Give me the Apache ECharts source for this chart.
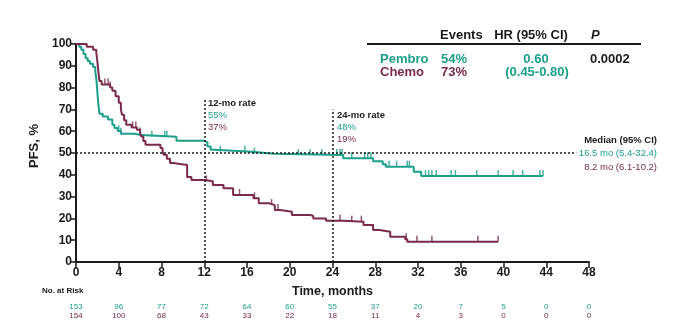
<!DOCTYPE html>
<html><head><meta charset="utf-8">
<script src="https://cdn.jsdelivr.net/npm/echarts@6/dist/echarts.min.js"></script>
<style>html,body{margin:0;padding:0;background:#fff}#c{width:692px;height:330px}</style>
</head><body><div id="c"></div>
<script>
// ---- data ----
const xTicks = [0,4,8,12,16,20,24,28,32,36,40,44,48];
const pembroAtRisk = [153,96,77,72,64,60,55,37,20,7,5,0,0];
const chemoAtRisk  = [154,100,68,43,33,22,18,11,4,3,0,0,0];
// Kaplan-Meier steps [months, PFS %]
const pembroKM = [[0,100],[0.3,98.7],[0.5,97.4],[0.7,95.4],[0.9,93.5],[1.1,92.2],[1.3,90.9],[1.6,89.5],[1.8,87.6],[1.9,84],[2.0,78],[2.1,72],[2.2,68],[2.5,66.7],[3.0,65.4],[3.4,63],[3.6,61.5],[3.9,60.1],[4.2,58.8],[5.5,58.2],[6.1,57.5],[9.4,55.6],[12.0,54.9],[12.3,53],[12.6,51.5],[12.9,50.6],[16.5,49.7],[18.5,49.1],[25.0,47.6],[27.8,46.2],[28.7,44.8],[29.0,43.7],[31.6,41.4],[32.3,39.4],[43.7,39.4]];
const chemoKM = [[0,100],[1.0,98.7],[1.6,97.4],[1.9,96.1],[2.0,92],[2.1,87],[2.2,83],[2.4,81.4],[3.2,80],[3.4,78.5],[3.7,76],[4.0,73],[4.2,70],[4.3,67.6],[4.5,65],[4.7,63],[5.2,61.7],[5.7,60.7],[6.0,59],[6.1,57.6],[6.3,55.5],[6.5,53.8],[7.9,52.3],[8.1,50.5],[8.2,49.2],[8.5,47.4],[8.8,45.4],[9.1,44.5],[10.4,39],[10.8,37.6],[12.0,37],[12.8,35.3],[13.8,33.8],[14.7,30.7],[16.6,29.2],[17.1,26.9],[18.1,26.1],[18.6,23.9],[19.1,23],[20.2,21.6],[21.9,21.1],[22.2,20],[23.4,18.9],[25,18.5],[26.9,17],[27.8,14.7],[28.4,13.9],[29.4,11.6],[30.8,10.4],[31.0,9.3],[39.5,9.3]];
const pembroCensor = [4.0,4.2,7.1,8.3,8.5,13.5,15.8,16.7,20.8,21.9,23.0,24.4,24.7,24.9,25.8,27.0,27.3,27.6,29.3,30.0,31.0,31.2,32.7,33.0,33.3,33.7,35.1,35.5,37.5,39.5,40.9,41.8,43.4,43.7];
const chemoCensor = [2.7,3.0,3.2,5.3,5.6,6.0,12.2,15.3,16.7,18.3,18.9,24.7,25.8,26.7,27.8,30.9,31.9,33.3,37.6,39.5];
const landmarks = [12, 24];
const medianPct = 50;

const TEAL = '#1b9f89', MAROON = '#7a2a4b', INK = '#1a1a1a';
const FONT = '"Liberation Sans", Arial, sans-serif';

function survAt(km, t){ let v = km[0][1]; for (const p of km){ if (p[0] <= t) v = p[1]; else break; } return v; }
const censorPts = (km, ts) => ts.map(t => [t, survAt(km, t)]);

const chart = echarts.init(document.getElementById('c'), null, {renderer:'canvas'});

const baseX = {type:'value', min:0, max:48, interval:4, splitLine:{show:false}};
const txt = (text, x, y, fill, size, weight, align, extra) => Object.assign({type:'text', x, y, silent:true,
  style: {text, fill, font: (weight||'normal') + ' ' + size + 'px ' + FONT, align: align||'left', verticalAlign:'middle'}}, extra||{});

chart.setOption({
  animation:false,
  grid:{left:76, right:103, top:44, bottom:68},
  xAxis:[
    Object.assign({}, baseX, {
      axisLine:{lineStyle:{color:INK, width:2}},
      axisTick:{length:6, lineStyle:{color:INK, width:1.5}},
      axisLabel:{color:INK, fontWeight:'bold', fontSize:12, fontFamily:FONT, margin:5},
      name:'Time, months', nameLocation:'middle', nameGap:23,
      nameTextStyle:{color:INK, fontWeight:'bold', fontSize:12.5, fontFamily:FONT}
    }),
    Object.assign({}, baseX, {position:'bottom', offset:41, axisLine:{show:false}, axisTick:{show:false},
      axisLabel:{color:TEAL, fontSize:8, fontFamily:FONT, margin:0, formatter:v => String(pembroAtRisk[xTicks.indexOf(v)])}}),
    Object.assign({}, baseX, {position:'bottom', offset:50, axisLine:{show:false}, axisTick:{show:false},
      axisLabel:{color:MAROON, fontSize:8, fontFamily:FONT, margin:0, formatter:v => String(chemoAtRisk[xTicks.indexOf(v)])}})
  ],
  yAxis:{type:'value', min:0, max:100, interval:10, splitLine:{show:false},
    axisLine:{show:true, lineStyle:{color:INK, width:2}},
    axisTick:{show:true, length:6, lineStyle:{color:INK, width:1.5}},
    axisLabel:{color:INK, fontWeight:'bold', fontSize:12, fontFamily:FONT, margin:4}},
  series:[
    {type:'line', name:'ref', data:[], silent:true, z:1,
      markLine:{silent:true, symbol:'none', label:{show:false},
        lineStyle:{color:INK, type:[2,2], width:1.5},
        data:[
          [{coord:[landmarks[0],0]},{coord:[landmarks[0],75]}],
          [{coord:[landmarks[1],0]},{coord:[landmarks[1],70]}],
          [{coord:[0,medianPct]},{coord:[46.8,medianPct]}]
        ]}},
    {type:'line', name:'Pembro', step:'end', data:pembroKM, showSymbol:false, symbol:'none', z:3,
      lineStyle:{color:TEAL, width:2}, itemStyle:{color:TEAL}},
    {type:'line', name:'Chemo', step:'end', data:chemoKM, showSymbol:false, symbol:'none', z:3,
      lineStyle:{color:MAROON, width:2}, itemStyle:{color:MAROON}},
    {type:'scatter', data:censorPts(pembroKM, pembroCensor), symbol:'rect', symbolSize:[1.5,6], symbolOffset:[0,-3], itemStyle:{color:TEAL}, z:4},
    {type:'scatter', data:censorPts(chemoKM, chemoCensor), symbol:'rect', symbolSize:[1.5,6], symbolOffset:[0,-3], itemStyle:{color:MAROON}, z:4}
  ],
  graphic:[
    txt('PFS, %', 34, 146, INK, 13, 'bold', 'center', {rotation:Math.PI/2}),
    // header table
    txt('Events', 440, 35, INK, 13, 'bold'),
    txt('HR (95% CI)', 531, 35, INK, 13, 'bold', 'center'),
    txt('P', 591, 35, INK, 13, 'italic bold'),
    {type:'line', silent:true, shape:{x1:367, y1:44, x2:641, y2:44}, style:{stroke:INK, lineWidth:2}},
    txt('Pembro', 380, 59, TEAL, 13, 'bold'),
    txt('Chemo', 380, 72, MAROON, 13, 'bold'),
    txt('54%', 441, 59, TEAL, 13, 'bold'),
    txt('73%', 441, 72, MAROON, 13, 'bold'),
    txt('0.60', 536, 59, TEAL, 13, 'bold', 'center'),
    txt('(0.45-0.80)', 537, 72, TEAL, 13, 'bold', 'center'),
    txt('0.0002', 590, 59, INK, 13, 'bold'),
    // landmark annotations
    txt('12-mo rate', 208, 103, INK, 9.5, 'bold'),
    txt('55%', 208, 115, TEAL, 9.5),
    txt('37%', 208, 127, MAROON, 9.5),
    txt('24-mo rate', 337, 115, INK, 9.5, 'bold'),
    txt('48%', 337, 127, TEAL, 9.5),
    txt('19%', 337, 139, MAROON, 9.5),
    // median
    txt('Median (95% CI)', 657, 140, INK, 9.5, 'bold', 'right'),
    txt('16.5 mo (5.4-32.4)', 657, 153, TEAL, 9.5, 'normal', 'right'),
    txt('8.2 mo (6.1-10.2)', 657, 167, MAROON, 9.5, 'normal', 'right'),
    txt('No. at Risk', 42, 291, INK, 8, 'bold')
  ]
});
</script></body></html>
